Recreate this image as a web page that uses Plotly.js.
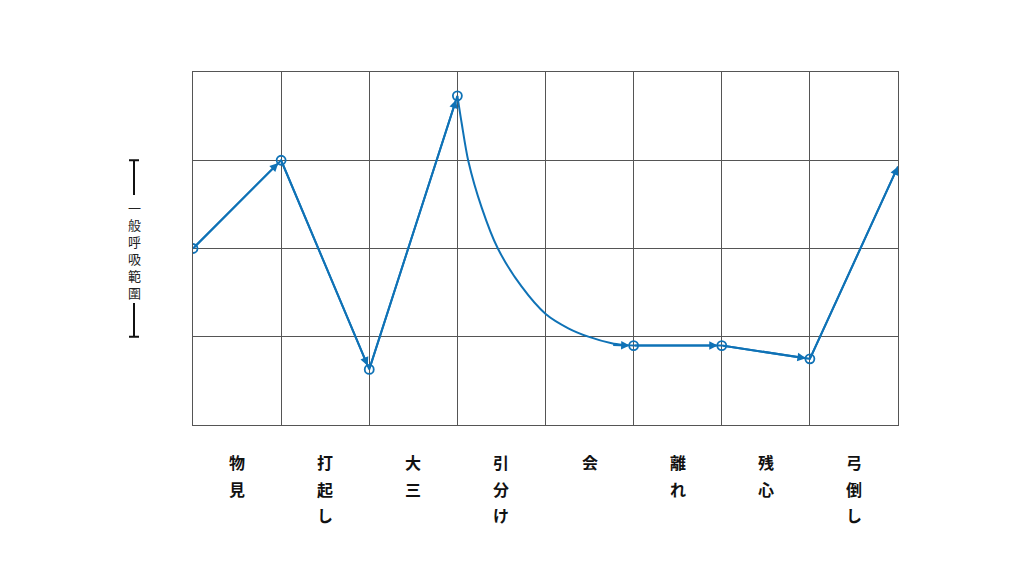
<!DOCTYPE html>
<html>
<head>
<meta charset="utf-8">
<script src="https://cdn.plot.ly/plotly-3.0.1.min.js"></script>
<style>html,body{margin:0;padding:0;background:#fff;}#chart{width:1024px;height:576px;}</style>
</head>
<body>
<div id="chart"></div>
<script>
// ---- data ----
const stages = ['物見', '打起し', '大三', '引分け', '会', '離れ', '残心', '弓倒し'];
const pointX = [0, 1, 2, 3, 5, 6, 7, 8];
const pointY = [2.0, 3.0, 0.63, 3.73, 0.9, 0.9, 0.75, 2.93];
const curveX = [3, 3.049, 3.124, 3.276, 3.458, 3.730, 4.002, 4.259, 4.486, 4.751, 4.88, 5];
const curveY = [3.73, 3.419, 2.992, 2.463, 2.002, 1.567, 1.258, 1.096, 1.001, 0.926, 0.908, 0.9];
const yLabel = '一般呼吸範圍';
const rangeLow = 1, rangeHigh = 3;

// ---- style ----
const blue = '#0f72b6';
const L = 193, R = 898, T = 72, B = 425;
const W = 1024, H = 576;
const px2paperX = px => (px - L) / (R - L);
const py2paperY = py => (B - py) / (B - T);

// straight segments (gap where the curve is)
const segX = [], segY = [];
pointX.forEach((x, i) => {
  if (i > 0 && x - pointX[i - 1] > 1) { segX.push(null); segY.push(null); }
  segX.push(x); segY.push(pointY[i]);
});

const traces = [
  {x: segX, y: segY, mode: 'lines', line: {color: blue, width: 2}, hoverinfo: 'skip', connectgaps: false},
  {x: curveX, y: curveY, mode: 'lines', line: {color: blue, width: 2, shape: 'spline', smoothing: 0.8}, hoverinfo: 'skip'},
  {x: pointX.slice(0, -1), y: pointY.slice(0, -1), mode: 'markers',
   marker: {symbol: 'circle-open', size: 9, color: blue, line: {width: 1.8, color: blue}}, hoverinfo: 'skip'}
];

const annotations = [];
const arrowStyle = {arrowhead: 2, arrowsize: 0.85, arrowwidth: 2, arrowcolor: blue};
// arrowheads on straight segments
for (let i = 1; i < pointX.length; i++) {
  if (pointX[i] - pointX[i - 1] > 1) continue;
  annotations.push(Object.assign({
    x: pointX[i], y: pointY[i], ax: pointX[i - 1], ay: pointY[i - 1],
    xref: 'x', yref: 'y', axref: 'x', ayref: 'y', text: '', showarrow: true,
    standoff: i === pointX.length - 1 ? 0 : 4
  }, arrowStyle));
}
// arrowhead at the end of the curve
const n = curveX.length;
annotations.push(Object.assign({
  x: curveX[n - 1], y: curveY[n - 1], ax: curveX[n - 3], ay: curveY[n - 2],
  xref: 'x', yref: 'y', axref: 'x', ayref: 'y', text: '', showarrow: true, standoff: 4
}, arrowStyle));

// stage labels, vertical
stages.forEach((s, i) => {
  Array.from(s).forEach((ch, j) => {
    annotations.push({
      x: i + 0.5, xref: 'x', y: py2paperY(462 + 26.5 * j), yref: 'paper',
      text: '<b>' + ch + '</b>', showarrow: false, xanchor: 'center', yanchor: 'middle',
      font: {family: 'Noto Sans CJK JP', size: 16, color: '#111'}
    });
  });
});

// y label, vertical
annotations.push({
  x: px2paperX(134), xref: 'paper', y: py2paperY(250), yref: 'paper',
  text: Array.from(yLabel).join('<br>'), showarrow: false, xanchor: 'center', yanchor: 'middle',
  font: {family: 'Noto Sans CJK JP', size: 13, color: '#222'}
});

// bracket shapes
const bx = px2paperX(134), cap = 5 / (R - L);
const blk = {color: '#111', width: 2};
const shapes = [
  {type: 'line', xref: 'paper', yref: 'y', x0: bx, x1: bx, y0: rangeHigh, y1: rangeHigh - 0.394, line: blk},
  {type: 'line', xref: 'paper', yref: 'y', x0: bx - cap, x1: bx + cap, y0: rangeHigh, y1: rangeHigh, line: blk},
  {type: 'line', xref: 'paper', yref: 'y', x0: bx, x1: bx, y0: rangeLow, y1: rangeLow + 0.382, line: blk},
  {type: 'line', xref: 'paper', yref: 'y', x0: bx - cap, x1: bx + cap, y0: rangeLow, y1: rangeLow, line: blk}
];

const layout = {
  width: W, height: H,
  margin: {l: L, r: W - R, t: T, b: H - B, pad: 0},
  paper_bgcolor: '#fff', plot_bgcolor: '#fff',
  showlegend: false,
  xaxis: {range: [0, 8], dtick: 1, tick0: 0, showgrid: true, gridcolor: '#555', gridwidth: 1,
          showticklabels: false, ticks: '', zeroline: false, showline: true, mirror: true,
          linecolor: '#555', linewidth: 1, fixedrange: true},
  yaxis: {range: [0, 4], dtick: 1, tick0: 0, showgrid: true, gridcolor: '#555', gridwidth: 1,
          showticklabels: false, ticks: '', zeroline: false, showline: true, mirror: true,
          linecolor: '#555', linewidth: 1, fixedrange: true},
  annotations: annotations,
  shapes: shapes
};

Plotly.newPlot('chart', traces, layout, {staticPlot: true, displayModeBar: false});
</script>
</body>
</html>
